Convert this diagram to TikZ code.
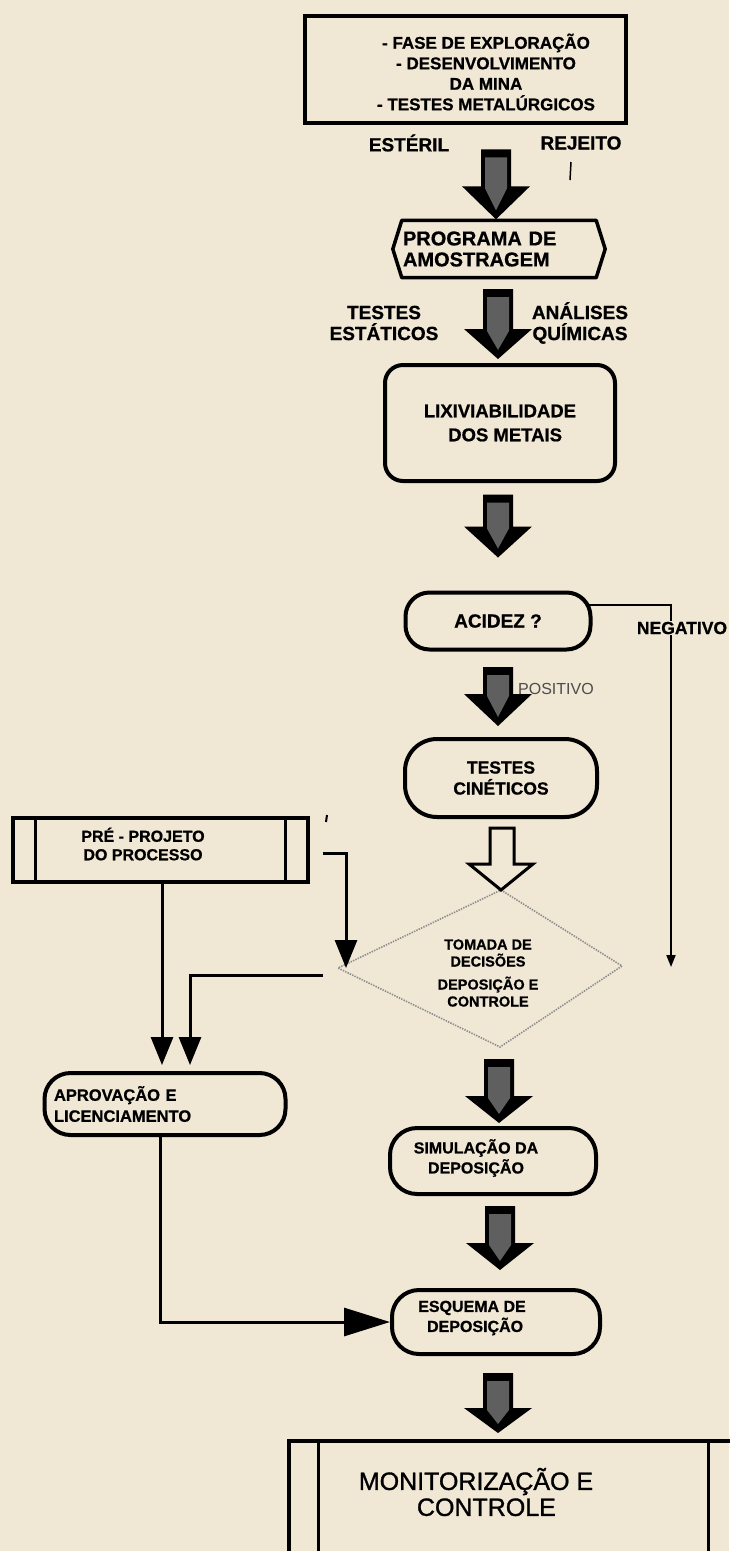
\documentclass[tikz,border=0pt]{standalone}
\usepackage{fontspec}
\setmainfont{Liberation Sans}[BoldFeatures={FakeBold=0.8}]
\newfontface\monfont{Liberation Sans}[FakeBold=1.2]
\usetikzlibrary{shapes.geometric,calc,arrows.meta}
\definecolor{paper}{RGB}{240,231,213}
\definecolor{stip}{RGB}{95,95,95}

% thick block arrow pointing down; #1 tip, #2 shaft length, #3 head length
\newcommand{\fatdown}[3]{%
  \fill[black] #1 -- ++(-34,-#3) -- ++(19,0) -- ++(0,-#2) -- ++(30,0) -- ++(0,#2) -- ++(19,0) -- cycle;
  \fill[stip] #1 ++(0,-9) -- ++(-11,{-(#3-11)}) -- ++(0,{-(#2-6)}) -- ++(22,0) -- ++(0,{#2-6}) -- cycle;
}

\tikzset{
  every node/.style={inner sep=0pt, align=center},
  txt/.style={font=\bfseries\fontsize{#1}{22}\selectfont},
  heavybox/.style={draw, line width=4pt},
  stadium/.style={draw, line width=4pt, rounded corners=#1},
  decision/.style={draw=black!45, line width=1.6pt, dash pattern=on 1.4pt off 1.2pt},
  conn/.style={line width=3pt, -{Triangle[length=28pt,width=22pt]}},
  bigconn/.style={line width=3pt, -{Triangle[length=46pt,width=28pt]}},
  thinconn/.style={line width=1.8pt, -{Triangle[length=12pt,width=9pt]}},
}

\begin{document}
\begin{tikzpicture}[x=1pt,y=-1pt]
\fill[paper] (0,0) rectangle (729,1551);
\useasboundingbox (0,0) rectangle (729,1551);

% main column
\node[heavybox, minimum width=321pt, minimum height=107pt] (top) at (465,69) {};
\node[font=\bfseries\fontsize{17}{20.5}\selectfont] (toptext) at (486,72)
  {- FASE DE EXPLORAÇÃO\\- DESENVOLVIMENTO\\DA MINA\\- TESTES METALÚRGICOS};

\node[minimum width=212pt, minimum height=57pt, text width=192pt, align=left,
      font=\bfseries\fontsize{20}{21}\selectfont] (prog) at (499,249)
  {PROGRAMA DE\\AMOSTRAGEM};
\draw[line width=3.5pt, line join=round]
  ($(prog.north west)+(9,0)$) -- ($(prog.north east)+(-9,0)$) -- (prog.east)
  -- ($(prog.south east)+(-9,0)$) -- ($(prog.south west)+(9,0)$) -- (prog.west) -- cycle;

\node[stadium=18pt, minimum width=230pt, minimum height=116pt,
      font=\bfseries\fontsize{18.5}{24}\selectfont] (lix) at (500,423)
  {LIXIVIABILIDADE\\\ \ DOS METAIS};

\node[stadium=24pt, minimum width=185pt, minimum height=57pt,
      font=\bfseries\fontsize{19}{22}\selectfont] (acid) at (498,621) {ACIDEZ ?};

\node[stadium=32pt, minimum width=192pt, minimum height=78pt,
      font=\bfseries\fontsize{17.5}{21}\selectfont] (test) at (501,778) {TESTES\\CINÉTICOS};

% decision diamond, drawn through its four corners
\coordinate (dtop) at (501,890);
\coordinate (dleft) at (338,968);
\coordinate (dbot) at (500,1047);
\coordinate (dright) at (622,966);
\draw[decision] (dtop) -- (dright) -- (dbot) -- (dleft) -- cycle;
\node[font=\bfseries\fontsize{14.5}{17}\selectfont] (dia) at (488,973)
  {TOMADA DE\\DECISÕES\\[6pt]DEPOSIÇÃO E\\CONTROLE};

\node[stadium=27pt, minimum width=206pt, minimum height=66pt] (sim) at (493,1161) {};
\node[font=\bfseries\fontsize{16}{20}\selectfont] (simtext) at (476,1158)
  {SIMULAÇÃO DA\\DEPOSIÇÃO};

\node[stadium=27pt, minimum width=208pt, minimum height=64pt] (esq) at (496,1322) {};
\node[font=\bfseries\fontsize{16}{20}\selectfont, align=left] (esqtext) at (472,1318)
  {ESQUEMA DE\\\ \ DEPOSIÇÃO};

% left column
\node[heavybox, minimum width=295pt, minimum height=64pt] (pre) at (160,850) {};
\node[font=\bfseries\fontsize{16}{18.5}\selectfont] (pretext) at (143,844)
  {PRÉ - PROJETO\\DO PROCESSO};
\draw[line width=3pt] ($(pre.north west)+(25,0)$) -- ($(pre.south west)+(25,0)$);
\draw[line width=3pt] ($(pre.north east)+(-24,0)$) -- ($(pre.south east)+(-24,0)$);

\node[stadium=26pt, minimum width=241pt, minimum height=62pt, text width=222pt, align=left,
      font=\bfseries\fontsize{16.5}{21}\selectfont] (aprov) at (165,1104)
  {APROVAÇÃO E\\LICENCIAMENTO};

% bottom box, running off the page
\node[heavybox, minimum width=474pt, minimum height=160pt] (mon) at (526,1521) {};
\draw[line width=3pt] ($(mon.north west)+(31,0)$) -- ($(mon.south west)+(31,0)$);
\draw[line width=3pt] ($(mon.north west)+(421,0)$) -- ($(mon.south west)+(421,0)$);
\node[font=\monfont\fontsize{25}{26}\selectfont] (montext) at (476,1492)
  {MONITORIZAÇÃO E\\\ \ \ CONTROLE};

% block arrows
\fatdown{($(prog.north)+(-3,-1)$)}{37}{33}
\fatdown{($(lix.north)+(-2,-4)$)}{40}{30}
\fatdown{($(acid.north)+(0,-33)$)}{32}{31}
\fatdown{($(test.north)+(-3,-11)$)}{27}{32}
\fatdown{($(sim.north)+(6,-3)$)}{37}{27}
\fatdown{($(esq.north)+(4,-18)$)}{37}{27}
\fatdown{($(mon.north)+(-28,-6)$)}{35}{25}

% open arrow into the decision
\filldraw[fill=paper, line width=3pt, line join=miter]
  (dtop) -- ++(-32,-26) -- ++(21,0) -- ++(0,-36) -- ++(24,0) -- ++(0,36) -- ++(19,0) -- cycle;

% labels beside the arrows
\node[txt=19] (est) at (409,143) {ESTÉRIL};
\node[txt=19] (rej) at (581,143) {REJEITO};
\node[font=\bfseries\fontsize{19}{21}\selectfont] (estat) at (384,323) {TESTES\\ESTÁTICOS};
\node[font=\bfseries\fontsize{19}{21}\selectfont] (quim) at (580,323) {ANÁLISES\\QUÍMICAS};
\node[anchor=west, text=black!70, font=\fontsize{16}{18}\selectfont] (pos) at (518,689) {POSITIVO};

% negative branch
\coordinate (negend) at (671,967);
\draw[thinconn] ($(acid.east)+(-4,-16)$) -| (negend);
\node[txt=17.5, fill=paper, inner sep=1pt] (neg) at (682,628) {NEGATIVO};

% side connectors
\coordinate (preout) at ($(pre.south)+(2,0)$);
\coordinate (aprovin) at ($(aprov.north)+(25,0)$);
\draw[conn] ($(pre.east)+(13,3)$) -| ($(dleft)+(8,0)$);
\draw[conn, shorten >=6pt] (preout) -- (preout |- aprov.north);
\draw[conn, shorten >=6pt] ($(dleft)+(-15,7)$) -| (aprovin);
\draw[bigconn] ($(aprov.south)+(-5,0)$) |- (esq.west);

% stray pen marks
\draw[line width=1.5pt] (571,162) -- (570,180);
\draw[line width=2pt] (327,815) -- (326,822);
\end{tikzpicture}
\end{document}
